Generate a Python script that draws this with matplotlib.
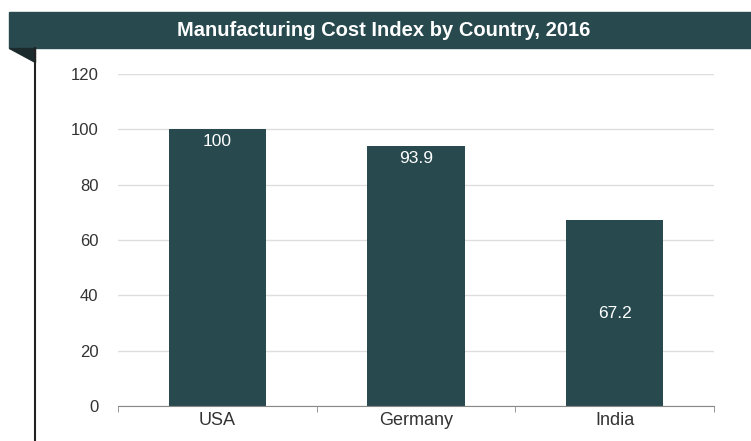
import matplotlib.pyplot as plt
from matplotlib.patches import Rectangle, Polygon
from matplotlib.lines import Line2D

plt.rcParams['font.family'] = ['Liberation Sans', 'DejaVu Sans']

# chart data
countries = ["USA", "Germany", "India"]
cost_index = [100, 93.9, 67.2]
value_labels = ["100", "93.9", "67.2"]
label_mode = ["top", "top", "center"]
y_ticks = [0, 20, 40, 60, 80, 100, 120]

title = "Manufacturing Cost Index by Country, 2016"
DARK = "#284a4f"

fig = plt.figure(figsize=(7.51, 4.41), dpi=100)
W, H = 751, 441

# header banner
fig.patches.append(Rectangle((9 / W, 1 - 48 / H), 1 - 9 / W, 36 / H,
                             transform=fig.transFigure, color=DARK, zorder=0))
# folded corner under the banner
fig.patches.append(Polygon([(9 / W, 1 - 48 / H), (35 / W, 1 - 48 / H), (35 / W, 1 - 62 / H)],
                           closed=True, transform=fig.transFigure, color="#1b2a2d"))
# left frame line
fig.lines.append(Line2D([35 / W, 35 / W], [0, 1 - 48 / H], transform=fig.transFigure,
                        color="#222222", lw=1.5))
fig.text(384 / W, 1 - 30 / H, title, color="white", fontsize=14.5,
         fontweight="bold", ha="center", va="center")

ax = fig.add_axes([118 / W, 1 - 406 / H, (714 - 118) / W, (406 - 74) / H])
x = range(len(countries))
bars = ax.bar(x, cost_index, width=0.49, color=DARK, zorder=3)

for bar, val, lab, mode in zip(bars, cost_index, value_labels, label_mode):
    cx = bar.get_x() + bar.get_width() / 2
    if mode == "top":
        ax.text(cx, val - 1.8, lab, color="white", fontsize=12.5,
                ha="center", va="top", zorder=4)
    else:
        ax.text(cx, val / 2, lab, color="white", fontsize=12.5,
                ha="center", va="center", zorder=4)

ax.set_xlim(-0.5, len(countries) - 0.5)
ax.set_ylim(0, 120)
ax.set_yticks(y_ticks)
ax.set_yticklabels([str(t) for t in y_ticks], fontsize=12, color="#333333")
ax.set_xticks(list(x))
ax.set_xticklabels(countries, fontsize=13, color="#333333")
ax.tick_params(axis="y", length=0, pad=14)
ax.tick_params(axis="x", length=0, pad=4)
# minor ticks between categories on the baseline
ax.set_xticks([-0.5, 0.5, 1.5, 2.5], minor=True)
ax.tick_params(axis="x", which="minor", length=4, color="#888888", direction="out")

ax.grid(axis="y", color="#dddddd", lw=1, zorder=0)
for s in ["top", "right", "left"]:
    ax.spines[s].set_visible(False)
ax.spines["bottom"].set_color("#888888")
ax.spines["bottom"].set_zorder(5)

fig.savefig("out.png", dpi=100, facecolor="white")
